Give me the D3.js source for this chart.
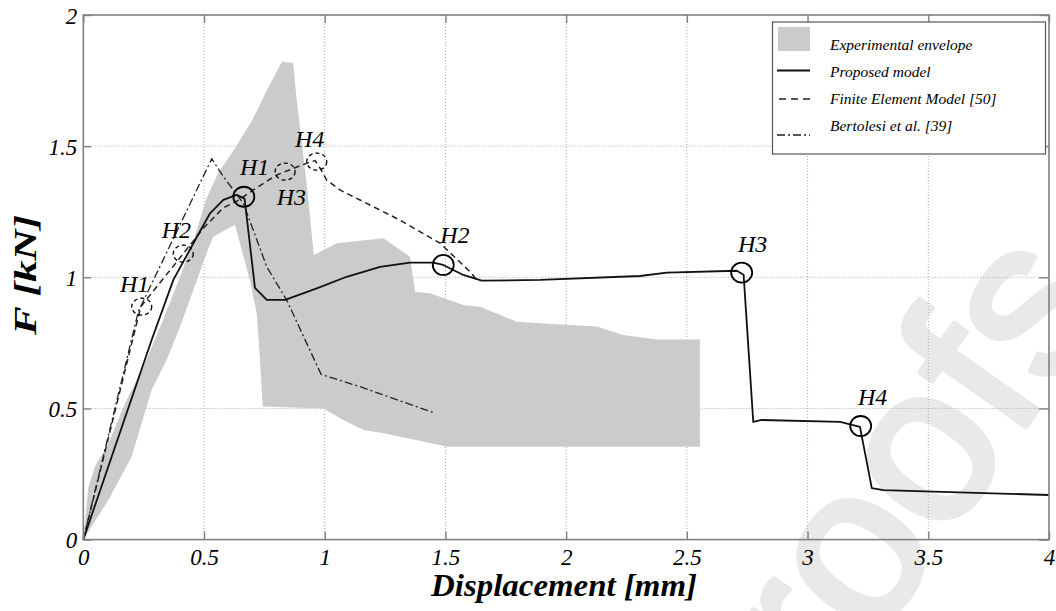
<!DOCTYPE html>
<html>
<head>
<meta charset="utf-8">
<script src="https://cdn.jsdelivr.net/npm/d3@7"></script>
<style>
  html, body { margin: 0; padding: 0; background: #fff; }
  svg { display: block; }
</style>
</head>
<body>
<svg id="chart" width="1056" height="611"></svg>
<script>
// ---------------- DATA ----------------
const xTicks = [0, 0.5, 1, 1.5, 2, 2.5, 3, 3.5, 4];
const xTickLabels = ["0", "0.5", "1", "1.5", "2", "2.5", "3", "3.5", "4"];
const yTicks = [0, 0.5, 1, 1.5, 2];
const yTickLabels = ["0", "0.5", "1", "1.5", "2"];

// Experimental envelope polygon (displacement mm, force kN)
const envelopeX = [0, 0.021, 0.048, 0.104, 0.173, 0.25, 0.318, 0.4, 0.46, 0.51, 0.56, 0.62, 0.7, 0.77, 0.823, 0.869, 0.884, 0.925, 0.955, 1.05, 1.243, 1.353, 1.374, 1.436, 1.574, 1.643, 1.795, 1.892, 2.127, 2.237, 2.375, 2.554, 2.554, 1.51, 1.44, 1.245, 1.161, 1.077, 0.994, 0.743, 0.732, 0.718, 0.69, 0.628, 0.538, 0.51, 0.456, 0.40, 0.345, 0.283, 0.2, 0.104, 0];
const envelopeY = [0, 0.2, 0.278, 0.367, 0.52, 0.66, 0.81, 1.0, 1.15, 1.3, 1.40, 1.48, 1.6, 1.73, 1.822, 1.817, 1.676, 1.358, 1.085, 1.13, 1.149, 1.079, 0.945, 0.939, 0.894, 0.888, 0.831, 0.825, 0.812, 0.78, 0.763, 0.763, 0.354, 0.354, 0.367, 0.405, 0.418, 0.456, 0.50, 0.507, 0.685, 0.863, 0.99, 1.2, 1.155, 1.09, 0.952, 0.81, 0.685, 0.57, 0.316, 0.151, 0];

// Proposed model
const proposedX = [0, 0.283, 0.373, 0.456, 0.525, 0.58, 0.635, 0.668, 0.711, 0.76, 0.836, 0.967, 1.091, 1.229, 1.353, 1.45, 1.491, 1.574, 1.65, 1.892, 2.306, 2.417, 2.707, 2.735, 2.775, 2.81, 3.135, 3.217, 3.266, 3.314, 4.0];
const proposedY = [0, 0.761, 0.99, 1.13, 1.244, 1.295, 1.314, 1.30, 0.96, 0.914, 0.914, 0.958, 1.002, 1.04, 1.056, 1.056, 1.047, 1.009, 0.987, 0.99, 1.005, 1.018, 1.025, 1.01, 0.449, 0.456, 0.449, 0.43, 0.196, 0.189, 0.17];

// Finite Element Model [50]
const femX = [0, 0.238, 0.414, 0.5, 0.58, 0.64, 0.704, 0.801, 0.925, 0.96, 0.985, 1.008, 1.063, 1.312, 1.478, 1.602, 1.63];
const femY = [0, 0.888, 1.09, 1.19, 1.265, 1.292, 1.333, 1.39, 1.435, 1.445, 1.41, 1.371, 1.333, 1.218, 1.13, 1.021, 0.99];

// Bertolesi et al. [39]
const bertX = [0, 0.228, 0.532, 0.58, 0.663, 0.76, 0.842, 0.985, 1.146, 1.45];
const bertY = [0, 0.87, 1.452, 1.384, 1.282, 1.04, 0.914, 0.63, 0.583, 0.484];

// Hinge markers
const solidHX = [0.665, 1.491, 2.727, 3.22];
const solidHY = [1.307, 1.047, 1.018, 0.433];
const solidHLabels = ["H1", "H2", "H3", "H4"];
const solidHLabelX = [0.649, 1.478, 2.712, 3.209];
const solidHLabelY = [1.39, 1.13, 1.096, 0.513];

const dashHX = [0.242, 0.414, 0.836, 0.967];
const dashHY = [0.888, 1.09, 1.403, 1.441];
const dashHLabels = ["H1", "H2", "H3", "H4"];
const dashHLabelX = [0.152, 0.325, 0.801, 0.877];
const dashHLabelY = [0.945, 1.149, 1.276, 1.498];

const legendLabels = ["Experimental envelope", "Proposed model", "Finite Element Model [50]", "Bertolesi et al. [39]"];
const xTitle = "Displacement [mm]";
const yTitle = "F [kN]";
const watermark = "proofs";

// ---------------- DRAW ----------------
const svg = d3.select("#chart");
const m = { left: 83.3, right: 1049, top: 15, bottom: 539.6 };
const x = d3.scaleLinear().domain([0, 4]).range([m.left, m.right]);
const y = d3.scaleLinear().domain([0, 2]).range([m.bottom, m.top]);

const serif = "Liberation Serif, Times New Roman, serif";

// watermark (behind everything)
svg.append("text")
  .attr("transform", "translate(760,806) rotate(-55)")
  .attr("font-family", "Liberation Sans, Arial, sans-serif")
  .attr("font-size", 222)
  .attr("fill", "#e9e9e9")
  .attr("stroke", "#e9e9e9").attr("stroke-width", 6).attr("stroke-linejoin", "round")
  .text(watermark);

// grid
const grid = svg.append("g");
grid.selectAll("line.gx").data(xTicks.slice(1, -1)).join("line")
  .attr("x1", d => x(d)).attr("x2", d => x(d))
  .attr("y1", m.top).attr("y2", m.bottom)
  .attr("stroke", "#aaa").attr("stroke-width", 1).attr("stroke-dasharray", "1,2");
grid.selectAll("line.gy").data(yTicks.slice(1, -1)).join("line")
  .attr("x1", m.left).attr("x2", m.right)
  .attr("y1", d => y(d)).attr("y2", d => y(d))
  .attr("stroke", "#aaa").attr("stroke-width", 1).attr("stroke-dasharray", "1,2");

// envelope
const envPts = envelopeX.map((d, i) => [d, envelopeY[i]]);
svg.append("path")
  .attr("d", d3.line().x(d => x(d[0])).y(d => y(d[1]))(envPts) + "Z")
  .attr("fill", "#cbcbcb").attr("stroke", "none");

// lines
const line = d3.line().x(d => x(d[0])).y(d => y(d[1]));
function pts(a, b) { return a.map((d, i) => [d, b[i]]); }

svg.append("path").attr("d", line(pts(bertX, bertY)))
  .attr("fill", "none").attr("stroke", "#222").attr("stroke-width", 1.3)
  .attr("stroke-dasharray", "8,3,2,3");
svg.append("path").attr("d", line(pts(femX, femY)))
  .attr("fill", "none").attr("stroke", "#222").attr("stroke-width", 1.5)
  .attr("stroke-dasharray", "6,4");
svg.append("path").attr("d", line(pts(proposedX, proposedY)))
  .attr("fill", "none").attr("stroke", "#111").attr("stroke-width", 1.8)
  .attr("stroke-linejoin", "round");

// hinge markers
svg.selectAll("ellipse.sh").data(solidHX).join("ellipse")
  .attr("cx", (d) => x(d)).attr("cy", (d, i) => y(solidHY[i]))
  .attr("rx", 10.5).attr("ry", 10)
  .attr("fill", "none").attr("stroke", "#000").attr("stroke-width", 1.8);
svg.selectAll("ellipse.dh").data(dashHX).join("ellipse")
  .attr("cx", (d) => x(d)).attr("cy", (d, i) => y(dashHY[i]))
  .attr("rx", 10).attr("ry", 8.5)
  .attr("fill", "none").attr("stroke", "#000").attr("stroke-width", 1.3)
  .attr("stroke-dasharray", "4,3");

svg.selectAll("text.shl").data(solidHLabels).join("text")
  .attr("x", (d, i) => x(solidHLabelX[i])).attr("y", (d, i) => y(solidHLabelY[i]))
  .attr("font-family", serif).attr("font-style", "italic").attr("font-size", 24)
  .attr("fill", "#000").text(d => d);
svg.selectAll("text.dhl").data(dashHLabels).join("text")
  .attr("x", (d, i) => x(dashHLabelX[i])).attr("y", (d, i) => y(dashHLabelY[i]))
  .attr("font-family", serif).attr("font-style", "italic").attr("font-size", 24)
  .attr("fill", "#000").text(d => d);

// frame + ticks
svg.append("rect")
  .attr("x", m.left).attr("y", m.top)
  .attr("width", m.right - m.left).attr("height", m.bottom - m.top)
  .attr("fill", "none").attr("stroke", "#808080").attr("stroke-width", 1.6);

const xAxis = d3.axisBottom(x).tickValues(xTicks)
  .tickFormat((d, i) => xTickLabels[i]).tickSize(-8).tickPadding(8);
const gx = svg.append("g").attr("transform", `translate(0,${m.bottom})`).call(xAxis)
  .attr("font-family", serif);
gx.select(".domain").remove();
gx.selectAll("line").attr("stroke", "#808080").attr("stroke-width", 1.4);
gx.selectAll("text").attr("font-family", serif).attr("font-style", "italic")
  .attr("font-size", 23).attr("fill", "#000").attr("dy", "0.75em");

const xAxisTop = d3.axisTop(x).tickValues(xTicks).tickFormat("").tickSize(-8);
const gxt = svg.append("g").attr("transform", `translate(0,${m.top})`).call(xAxisTop);
gxt.select(".domain").remove();
gxt.selectAll("line").attr("stroke", "#808080").attr("stroke-width", 1.4);

const yAxis = d3.axisLeft(y).tickValues(yTicks)
  .tickFormat((d, i) => yTickLabels[i]).tickSize(-8).tickPadding(6);
const gy = svg.append("g").attr("transform", `translate(${m.left},0)`).call(yAxis)
  .attr("font-family", serif);
gy.select(".domain").remove();
gy.selectAll("line").attr("stroke", "#808080").attr("stroke-width", 1.4);
gy.selectAll("text").attr("font-family", serif).attr("font-style", "italic")
  .attr("font-size", 23).attr("fill", "#000").attr("dy", "0.35em");

const yAxisR = d3.axisRight(y).tickValues(yTicks).tickFormat("").tickSize(-10);
const gyr = svg.append("g").attr("transform", `translate(${m.right},0)`).call(yAxisR);
gyr.select(".domain").remove();
gyr.selectAll("line").attr("stroke", "#808080").attr("stroke-width", 1.4);

// axis titles
svg.append("text")
  .attr("x", 564).attr("y", 596)
  .attr("text-anchor", "middle")
  .attr("font-family", serif).attr("font-style", "italic").attr("font-weight", "bold")
  .attr("font-size", 31).attr("textLength", 266).attr("lengthAdjust", "spacingAndGlyphs")
  .attr("fill", "#000").text(xTitle);

svg.append("text")
  .attr("transform", "translate(36,275) rotate(-90)")
  .attr("text-anchor", "middle")
  .attr("font-family", serif).attr("font-style", "italic").attr("font-weight", "bold")
  .attr("font-size", 31).attr("textLength", 120).attr("lengthAdjust", "spacingAndGlyphs")
  .attr("fill", "#000").text(yTitle);

// legend
const lg = svg.append("g");
lg.append("rect").attr("x", 772.5).attr("y", 22).attr("width", 273).attr("height", 132)
  .attr("fill", "#fff").attr("stroke", "#555").attr("stroke-width", 1.2);
const rowY = [39, 70.5, 99, 135];
const textY = [50, 77, 104, 131];
lg.append("rect").attr("x", 778).attr("y", 27).attr("width", 32).attr("height", 24).attr("fill", "#cbcbcb");
lg.append("line").attr("x1", 777).attr("x2", 810).attr("y1", rowY[1]).attr("y2", rowY[1])
  .attr("stroke", "#111").attr("stroke-width", 1.8);
lg.append("line").attr("x1", 779).attr("x2", 810).attr("y1", rowY[2]).attr("y2", rowY[2])
  .attr("stroke", "#222").attr("stroke-width", 1.5).attr("stroke-dasharray", "7,5");
lg.append("line").attr("x1", 777).attr("x2", 810).attr("y1", rowY[3]).attr("y2", rowY[3])
  .attr("stroke", "#222").attr("stroke-width", 1.3).attr("stroke-dasharray", "8,3,2,3");
lg.selectAll("text.lt").data(legendLabels).join("text")
  .attr("x", 830).attr("y", (d, i) => textY[i])
  .attr("font-family", serif).attr("font-style", "italic").attr("font-size", 15.5)
  .attr("fill", "#000").text(d => d);
</script>
</body>
</html>
